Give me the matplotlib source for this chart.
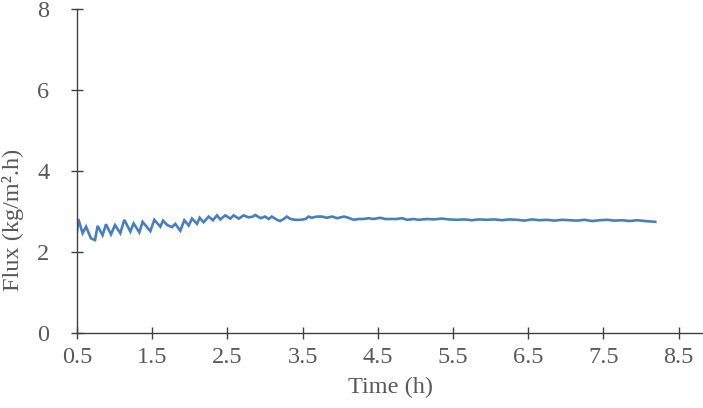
import matplotlib
matplotlib.use("Agg")
import matplotlib.pyplot as plt

# Data
time_h = [0.50, 0.517, 0.575, 0.62, 0.686, 0.74, 0.774, 0.84, 0.886, 0.952, 1.005, 1.076,
          1.129, 1.209, 1.253, 1.329, 1.372, 1.475, 1.528, 1.608, 1.644, 1.70, 1.763, 1.807,
          1.874, 1.927, 1.985, 2.029, 2.096, 2.131, 2.184, 2.25, 2.308, 2.361, 2.406, 2.472,
          2.539, 2.583, 2.65, 2.716, 2.782, 2.84, 2.87, 2.94, 3.0, 3.05, 3.09, 3.16, 3.20,
          3.25, 3.29, 3.34, 3.40, 3.47, 3.54, 3.58, 3.62, 3.69, 3.76, 3.82, 3.89, 3.96,
          4.05, 4.11, 4.18, 4.24, 4.31, 4.38, 4.44, 4.53, 4.60, 4.67, 4.75, 4.82, 4.89,
          4.98, 5.04, 5.15, 5.25, 5.35, 5.45, 5.55, 5.65, 5.75, 5.85, 5.95, 6.05, 6.15,
          6.25, 6.35, 6.45, 6.55, 6.65, 6.75, 6.85, 6.95, 7.05, 7.15, 7.25, 7.35, 7.45,
          7.55, 7.65, 7.75, 7.85, 7.95, 8.05, 8.12, 8.19]
flux = [2.50, 2.81, 2.46, 2.62, 2.33, 2.29, 2.64, 2.41, 2.68, 2.43, 2.66, 2.46,
        2.79, 2.50, 2.70, 2.48, 2.74, 2.51, 2.79, 2.62, 2.77, 2.66, 2.61, 2.69,
        2.52, 2.78, 2.65, 2.82, 2.69, 2.84, 2.73, 2.87, 2.78, 2.90, 2.80, 2.90,
        2.82, 2.90, 2.82, 2.90, 2.85, 2.87, 2.91, 2.83, 2.87, 2.81, 2.87, 2.79, 2.76,
        2.81, 2.87, 2.81, 2.79, 2.79, 2.81, 2.87, 2.84, 2.87, 2.87, 2.84, 2.87, 2.83,
        2.87, 2.84, 2.79, 2.81, 2.81, 2.83, 2.81, 2.84, 2.81, 2.81, 2.81, 2.83, 2.79,
        2.81, 2.79, 2.81, 2.80, 2.82, 2.80, 2.79, 2.80, 2.78, 2.80, 2.79, 2.80, 2.78,
        2.80, 2.79, 2.77, 2.80, 2.78, 2.79, 2.77, 2.79, 2.78, 2.77, 2.79, 2.76, 2.78,
        2.79, 2.77, 2.78, 2.76, 2.78, 2.76, 2.75, 2.74]

x_ticks = [0.5, 1.5, 2.5, 3.5, 4.5, 5.5, 6.5, 7.5, 8.5]
y_ticks = [0, 2, 4, 6, 8]

plt.rcParams['font.family'] = ['Liberation Serif', 'DejaVu Serif']
text_color = '#595959'
axis_color = '#404040'

fig = plt.figure(figsize=(7.03, 4.08), dpi=100)
ax = fig.add_axes([77 / 703, 75.3 / 408, 626 / 703, 323.7 / 408])
ax.plot(time_h, flux, color='#4a7ebb', lw=1.9, solid_joinstyle='miter')

ax.set_xlim(0.5, 0.5 + 626 / 75.2)
ax.set_ylim(0, 8)
ax.set_xticks(x_ticks)
ax.set_xticklabels([f"{t:.1f}" for t in x_ticks])
ax.set_yticks(y_ticks)

for s in ['top', 'right']:
    ax.spines[s].set_visible(False)
for s in ['left', 'bottom']:
    ax.spines[s].set_color(axis_color)
    ax.spines[s].set_linewidth(1.0)

ax.tick_params(axis='both', direction='inout', length=8, width=1.0, color=axis_color,
               labelsize=17.5, labelcolor=text_color)
ax.tick_params(axis='x', pad=6)
ax.tick_params(axis='y', pad=16)

ax.set_xlabel('Time (h)', fontsize=17.5, color=text_color, labelpad=7)
fig.text(13 / 703, 1 - 220 / 408, 'Flux (kg/m\u00b2.h)', fontsize=17.5, color=text_color,
         rotation=90, ha='center', va='center')

fig.savefig('out.png', dpi=100)
